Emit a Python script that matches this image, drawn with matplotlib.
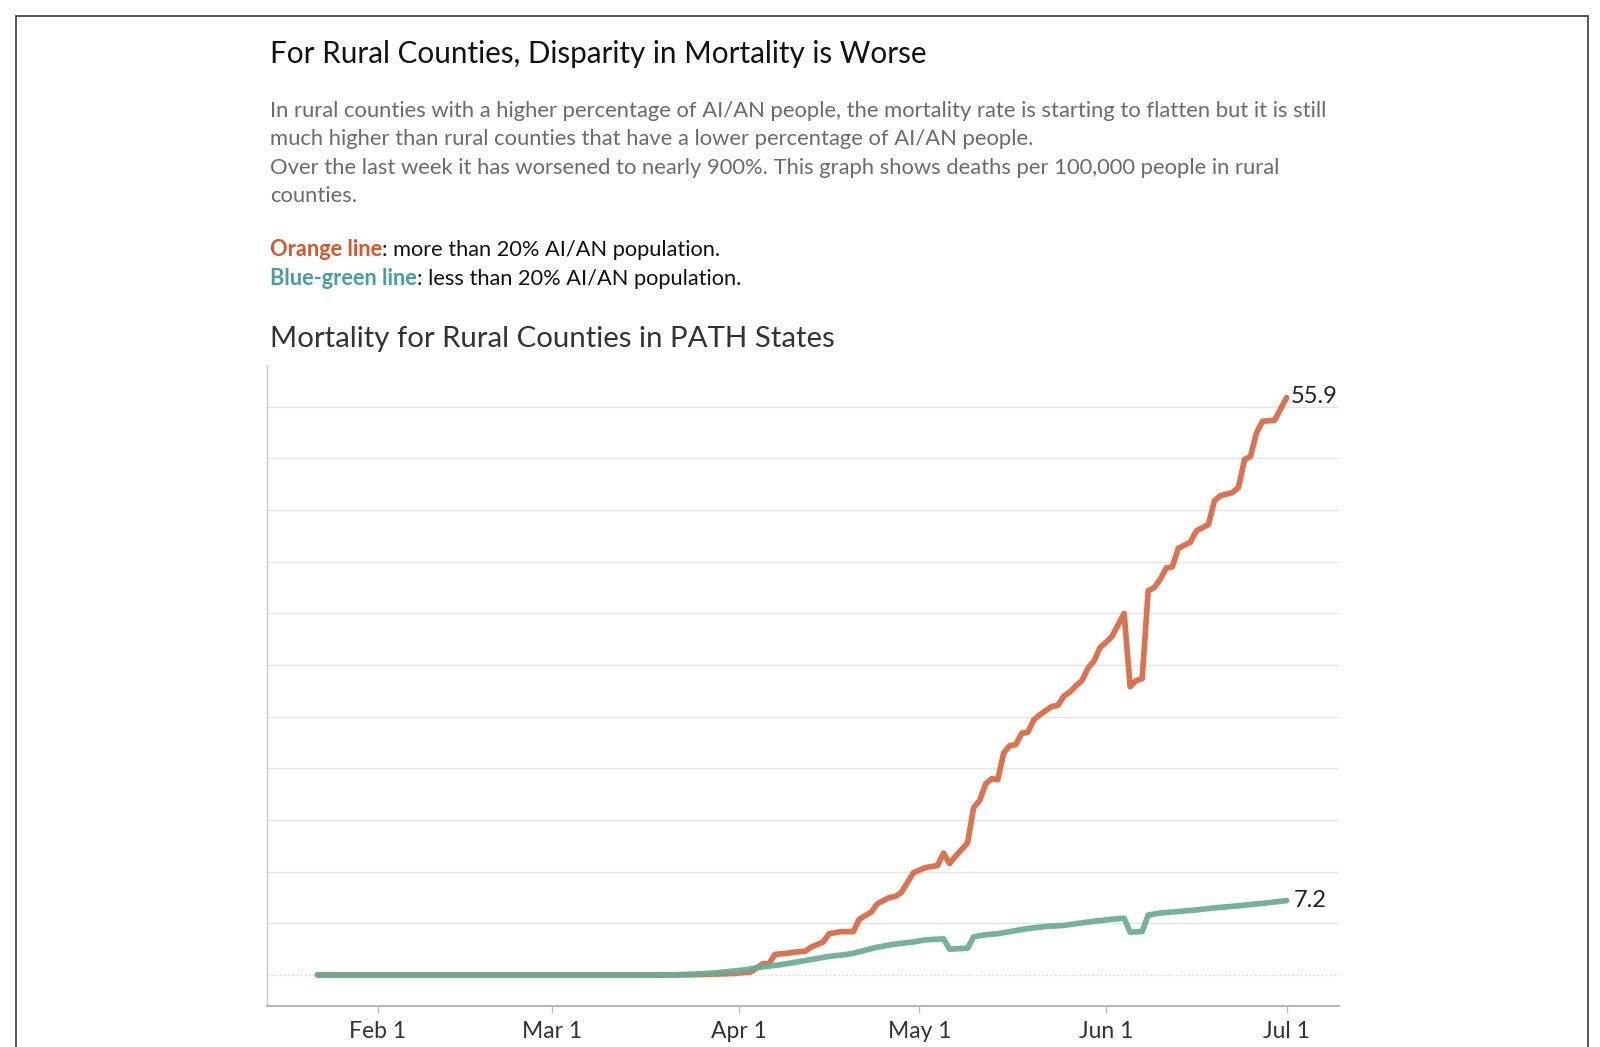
import matplotlib
matplotlib.use("Agg")
import matplotlib.pyplot as plt
import matplotlib.patches as mpatches
import pandas as pd

plt.rcParams['font.family'] = ['Lato', 'DejaVu Sans']

# ---------------- data ----------------
orange_dates = ["2020-01-22", "2020-03-20", "2020-03-26", "2020-03-31", "2020-04-03", "2020-04-05",
                "2020-04-06", "2020-04-07", "2020-04-09", "2020-04-10", "2020-04-12", "2020-04-13",
                "2020-04-15", "2020-04-16", "2020-04-18", "2020-04-20", "2020-04-21", "2020-04-23",
                "2020-04-24", "2020-04-26", "2020-04-27", "2020-04-28", "2020-04-30", "2020-05-02",
                "2020-05-04", "2020-05-05", "2020-05-06", "2020-05-07", "2020-05-09", "2020-05-10",
                "2020-05-11", "2020-05-12", "2020-05-13", "2020-05-14", "2020-05-15", "2020-05-16",
                "2020-05-17", "2020-05-18", "2020-05-19", "2020-05-20", "2020-05-21", "2020-05-22",
                "2020-05-23", "2020-05-24", "2020-05-25", "2020-05-26", "2020-05-27", "2020-05-28",
                "2020-05-29", "2020-05-30", "2020-05-31", "2020-06-01", "2020-06-02", "2020-06-03",
                "2020-06-04", "2020-06-05", "2020-06-06", "2020-06-07", "2020-06-08", "2020-06-09",
                "2020-06-10", "2020-06-11", "2020-06-12", "2020-06-13", "2020-06-15", "2020-06-16",
                "2020-06-18", "2020-06-19", "2020-06-20", "2020-06-22", "2020-06-23", "2020-06-24",
                "2020-06-25", "2020-06-26", "2020-06-27", "2020-06-29", "2020-07-01"]
orange_values = [0.0, 0.0, 0.05, 0.15, 0.3, 1.1,
                 1.1, 2.0, 2.1, 2.2, 2.3, 2.7,
                 3.2, 4.0, 4.2, 4.2, 5.4, 6.1,
                 6.9, 7.5, 7.6, 8.0, 9.9, 10.4,
                 10.6, 11.8, 10.8, 11.5, 12.8, 16.2,
                 16.9, 18.5, 19.0, 18.9, 21.5, 22.2,
                 22.3, 23.4, 23.5, 24.7, 25.2, 25.6,
                 26.0, 26.1, 27.0, 27.4, 28.0, 28.5,
                 29.7, 30.4, 31.7, 32.2, 32.8, 33.9,
                 35.0, 27.9, 28.5, 28.7, 37.2, 37.5,
                 38.3, 39.4, 39.5, 41.3, 41.9, 43.0,
                 43.6, 45.9, 46.4, 46.7, 47.2, 49.9,
                 50.2, 52.5, 53.6, 53.7, 55.9]

green_dates = ["2020-01-22", "2020-03-18", "2020-03-24", "2020-03-28", "2020-04-02", "2020-04-05",
               "2020-04-08", "2020-04-11", "2020-04-13", "2020-04-16", "2020-04-19", "2020-04-20",
               "2020-04-22", "2020-04-24", "2020-04-27", "2020-04-30", "2020-05-02", "2020-05-05",
               "2020-05-06", "2020-05-09", "2020-05-10", "2020-05-12", "2020-05-14", "2020-05-17",
               "2020-05-19", "2020-05-22", "2020-05-25", "2020-05-28", "2020-05-30", "2020-06-02",
               "2020-06-04", "2020-06-05", "2020-06-07", "2020-06-08", "2020-06-10", "2020-06-13",
               "2020-06-16", "2020-06-19", "2020-06-23", "2020-06-28", "2020-07-01"]
green_values = [0.0, 0.0, 0.06, 0.2, 0.5, 0.8,
                1.0, 1.3, 1.5, 1.8, 2.0, 2.1,
                2.4, 2.7, 3.0, 3.2, 3.4, 3.5,
                2.5, 2.6, 3.7, 3.9, 4.0, 4.3,
                4.5, 4.7, 4.8, 5.05, 5.2, 5.4,
                5.5, 4.15, 4.2, 5.8, 6.0, 6.15,
                6.3, 6.5, 6.7, 7.0, 7.2]

tick_dates = ["2020-02-01", "2020-03-01", "2020-04-01", "2020-05-01", "2020-06-01", "2020-07-01"]
tick_labels = ["Feb 1", "Mar 1", "Apr 1", "May 1", "Jun 1", "Jul 1"]
grid_values = [0, 5, 10, 15, 20, 25, 30, 35, 40, 45, 50, 55]

title = "For Rural Counties, Disparity in Mortality is Worse"
body_lines = [
    "In rural counties with a higher percentage of AI/AN people, the mortality rate is starting to flatten but it is still",
    "much higher than rural counties that have a lower percentage of AI/AN people.",
    "Over the last week it has worsened to nearly 900%. This graph shows deaths per 100,000 people in rural",
    "counties.",
]
chart_title = "Mortality for Rural Counties in PATH States"

# ---------------- figure ----------------
W, H = 1600, 1047
fig = plt.figure(figsize=(W / 100, H / 100), dpi=100)
fig.patch.set_facecolor("white")

def fx(x):
    return x / W

def fy(y):
    return 1 - y / H

# border frame
fig.patches.append(mpatches.Rectangle((fx(15.5), fy(1100)), fx(1588) - fx(15.5), fy(16.5) - fy(1100),
                                      transform=fig.transFigure, fill=False, edgecolor="#3a3a3a",
                                      linewidth=1.2))

ORANGE_TXT = "#d4582b"
TEAL_TXT = "#4a9e9b"
ORANGE_LINE = "#db7350"
GREEN_LINE = "#6aac93"
BODY_FS = 15.85
LEGEND_FS = 15.7

fig.text(fx(270), fy(62.5), title, fontsize=21.3, color="#111111", va="baseline", ha="left")
for i, line in enumerate(body_lines):
    fig.text(fx(270), fy(116.7 + 28.5 * i), line, fontsize=BODY_FS, color="#6b6b6b",
             va="baseline", ha="left")

t1 = fig.text(fx(270), fy(256), "Orange line", fontsize=LEGEND_FS, color=ORANGE_TXT, weight="bold",
              va="baseline", ha="left")
t2 = fig.text(fx(270), fy(285), "Blue-green line", fontsize=LEGEND_FS, color=TEAL_TXT, weight="bold",
              va="baseline", ha="left")
fig.canvas.draw()
r = fig.canvas.get_renderer()
for t, rest in [(t1, ": more than 20% AI/AN population."), (t2, ": less than 20% AI/AN population.")]:
    bb = t.get_window_extent(renderer=r)
    fig.text(bb.x1 / W, t.get_position()[1], rest, fontsize=LEGEND_FS, color="#111111",
             va="baseline", ha="left")

fig.text(fx(270), fy(346.7), chart_title, fontsize=21.2, color="#333333", va="baseline", ha="left")

# axes
ax = fig.add_axes([fx(267), fy(1006), fx(1339) - fx(267), fy(365) - fy(1006)])
od = pd.to_datetime(orange_dates)
gd = pd.to_datetime(green_dates)
ax.plot(od, orange_values, color=ORANGE_LINE, lw=4.1, solid_capstyle="round", solid_joinstyle="round",
        zorder=3)
ax.plot(gd, green_values, color=GREEN_LINE, lw=4.1, solid_capstyle="round", solid_joinstyle="round",
        zorder=4, alpha=0.92)

apr1 = pd.Timestamp("2020-04-01")
ax.set_xlim(apr1 - pd.Timedelta(days=78.4), apr1 + pd.Timedelta(days=99.7))
ax.set_ylim(-3.0, 59.05)

ax.set_yticks(grid_values)
ax.tick_params(axis="y", length=0, labelleft=False)
ax.yaxis.grid(True, color="#e3e3e3", linewidth=1.0)
for gl, v in zip(ax.get_ygridlines(), grid_values):
    if v == 0:
        gl.set_linestyle((0, (1, 2)))
        gl.set_color("#d0d0d0")
ax.set_axisbelow(True)

ax.set_xticks(pd.to_datetime(tick_dates))
ax.set_xticklabels(tick_labels)
ax.tick_params(axis="x", length=5, color="#c0c0c0", width=1, labelsize=16.5, labelcolor="#333333", pad=6)

for s in ["top", "right"]:
    ax.spines[s].set_visible(False)
ax.spines["left"].set_color("#c8c8c8")
ax.spines["bottom"].set_color("#b0b0b0")
ax.spines["left"].set_linewidth(1.0)
ax.spines["bottom"].set_linewidth(1.3)

# end labels
ax.annotate(f"{orange_values[-1]:.1f}", xy=(od[-1], orange_values[-1]), xytext=(3, 1),
            textcoords="offset points", fontsize=17, color="#222222", va="center", ha="left")
ax.annotate(f"{green_values[-1]:.1f}", xy=(gd[-1], green_values[-1]), xytext=(5, 0),
            textcoords="offset points", fontsize=17, color="#222222", va="center", ha="left")

fig.savefig("out.png", dpi=100, facecolor="white")
